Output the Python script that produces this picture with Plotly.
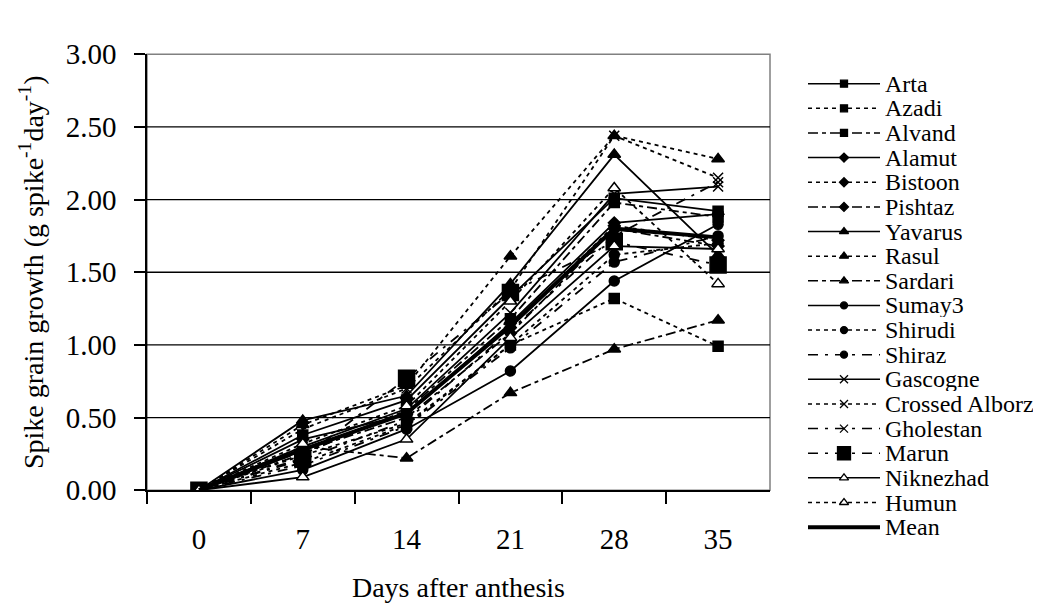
import plotly.graph_objects as go

days = ["0", "7", "14", "21", "28", "35"]

cultivars = ["Arta", "Azadi", "Alvand", "Alamut", "Bistoon", "Pishtaz",
             "Yavarus", "Rasul", "Sardari", "Sumay3", "Shirudi", "Shiraz",
             "Gascogne", "Crossed Alborz", "Gholestan", "Marun", "Niknezhad",
             "Humun", "Mean"]

arta = [0, 0.38, 0.62, 1.33, 2.01, 1.92]
azadi = [0, 0.19, 0.45, 1.00, 1.32, 0.99]
alvand = [0, 0.25, 0.55, 1.18, 1.98, 1.88]
alamut = [0, 0.35, 0.52, 1.15, 1.84, 1.90]
bistoon = [0, 0.28, 0.53, 1.12, 1.82, 1.72]
pishtaz = [0, 0.27, 0.50, 1.08, 1.80, 1.68]
yavarus = [0, 0.48, 0.65, 1.42, 2.31, 1.62]
rasul = [0, 0.45, 0.72, 1.61, 2.44, 2.28]
sardari = [0, 0.30, 0.22, 0.67, 0.97, 1.17]
sumay3 = [0, 0.14, 0.42, 0.82, 1.44, 1.83]
shirudi = [0, 0.24, 0.46, 1.00, 1.62, 1.70]
shiraz = [0, 0.17, 0.44, 0.98, 1.57, 1.75]
gascogne = [0, 0.30, 0.56, 1.22, 2.04, 2.09]
crossed_alborz = [0, 0.42, 0.70, 1.38, 2.44, 2.15]
gholestan = [0, 0.21, 0.48, 1.10, 1.75, 2.12]
marun = [0, 0.22, 0.77, 1.36, 1.71, 1.55]
niknezhad = [0, 0.09, 0.35, 1.05, 1.68, 1.66]
humun = [0, 0.32, 0.58, 1.30, 2.08, 1.42]
mean = [0, 0.28, 0.53, 1.13, 1.80, 1.74]

values = [arta, azadi, alvand, alamut, bistoon, pishtaz, yavarus, rasul,
          sardari, sumay3, shirudi, shiraz, gascogne, crossed_alborz,
          gholestan, marun, niknezhad, humun, mean]

y_ticks = [0, 0.5, 1.0, 1.5, 2.0, 2.5, 3.0]

SOLID = "solid"
DOT = "4px,4px"
DASHDOT = "10px,4px,4px,4px"
LONGDD = "10px,7px,3px,7px"

# (dash, symbol, plot size, legend size, fill)
styles = [
    (SOLID, "square", 10, 7, "black"),
    (DOT, "square", 10, 7, "black"),
    (DASHDOT, "square", 10, 7, "black"),
    (SOLID, "diamond", 9, 7, "black"),
    (DOT, "diamond", 9, 7, "black"),
    (DASHDOT, "diamond", 9, 7, "black"),
    (SOLID, "triangle-up", 11, 8, "black"),
    (DOT, "triangle-up", 11, 8, "black"),
    (DASHDOT, "triangle-up", 11, 8, "black"),
    (SOLID, "circle", 10, 7, "black"),
    (DOT, "circle", 10, 7, "black"),
    (LONGDD, "circle", 10, 7, "black"),
    (SOLID, "x-thin", 10, 8, "black"),
    (DOT, "x-thin", 10, 8, "black"),
    (LONGDD, "x-thin", 10, 8, "black"),
    (LONGDD, "square", 16, 13, "black"),
    (SOLID, "triangle-up", 11, 8, "white"),
    (DOT, "triangle-up", 11, 8, "white"),
    (SOLID, None, 0, 0, "black"),
]

W, H = 1041, 610
PL, PR, PT, PB = 139, 762, 32, 492  # plot area pixels
FAMILY = "'Times New Roman', 'Liberation Serif', serif"

fig = go.Figure()

for name, vals, (dash, sym, size, lsize, fill) in zip(cultivars, values, styles):
    is_mean = sym is None
    mk = dict(symbol=sym or "circle", size=size, color=fill,
              line=dict(color="black", width=1.5))
    fig.add_trace(go.Scatter(
        x=days, y=vals, name=name, mode="lines" if is_mean else "lines+markers",
        line=dict(color="black", width=4 if is_mean else 1.8, dash=dash),
        marker=mk, showlegend=False, xaxis="x", yaxis="y"))

# manual legend on an auxiliary axis pair
leg_top, leg_step = 63, 26
for i, (name, (dash, sym, size, lsize, fill)) in enumerate(zip(cultivars, styles)):
    is_mean = sym is None
    fig.add_trace(go.Scatter(
        x=[0, 1], y=[i, i], mode="lines",
        line=dict(color="black", width=4 if is_mean else 1.5, dash=dash),
        showlegend=False, hoverinfo="skip", xaxis="x2", yaxis="y2"))
    if not is_mean:
        fig.add_trace(go.Scatter(
            x=[0.5], y=[i], mode="markers",
            marker=dict(symbol=sym, size=lsize, color=fill,
                        line=dict(color="black", width=1.3)),
            showlegend=False, hoverinfo="skip", xaxis="x2", yaxis="y2"))
    fig.add_annotation(x=1, y=i, xref="x2", yref="y2", text=name,
                       showarrow=False, xanchor="left", yanchor="middle",
                       xshift=4, height=24, borderpad=0,
                       font=dict(size=24, color="black", family=FAMILY))

y2_lo = (0 - leg_top) / leg_step
y2_hi = (H - leg_top) / leg_step

font = dict(family=FAMILY, size=28, color="black")
tickfont = dict(family=FAMILY, size=29, color="black")

shapes = [dict(type="rect", xref="x domain", yref="y domain",
               x0=0, x1=1, y0=0, y1=1,
               line=dict(color="#808080", width=1.5), layer="below")]
for v in y_ticks[1:-1]:
    shapes.append(dict(type="line", xref="x domain", yref="y",
                       x0=0, x1=1, y0=v, y1=v,
                       line=dict(color="black", width=1.3), layer="below"))

fig.update_layout(
    width=W, height=H,
    margin=dict(l=0, r=0, t=0, b=0),
    paper_bgcolor="white", plot_bgcolor="white",
    font=font,
    xaxis=dict(domain=[PL / W, PR / W], type="category", range=[-0.5, 5.5],
               showgrid=False, showline=True, linecolor="black", linewidth=1.5,
               ticks="outside", ticklen=12, tickwidth=1.5, tickcolor="black",
               tickson="boundaries", ticklabelstandoff=22, tickfont=tickfont,
               title=dict(text="Days after anthesis", standoff=24, font=font),
               zeroline=False, fixedrange=True),
    yaxis=dict(domain=[1 - PB / H, 1 - PT / H], range=[0, 3],
               tickvals=y_ticks, tickformat=".2f", tickfont=tickfont,
               showgrid=False,
               showline=True, linecolor="black", linewidth=1.5,
               ticks="outside", ticklen=11, tickwidth=1.5, tickcolor="black",
               ticklabelstandoff=12, zeroline=False,
               title=dict(text="Spike grain growth (g spike<sup>-1</sup>day<sup>-1</sup>)",
                          standoff=14, font=font)),
    xaxis2=dict(domain=[800 / W, 872 / W], range=[0, 1], visible=False,
                anchor="y2"),
    yaxis2=dict(domain=[0, 1], range=[y2_hi, y2_lo], visible=False,
                anchor="x2"),
    shapes=shapes,
)

fig.write_html("out.html")
